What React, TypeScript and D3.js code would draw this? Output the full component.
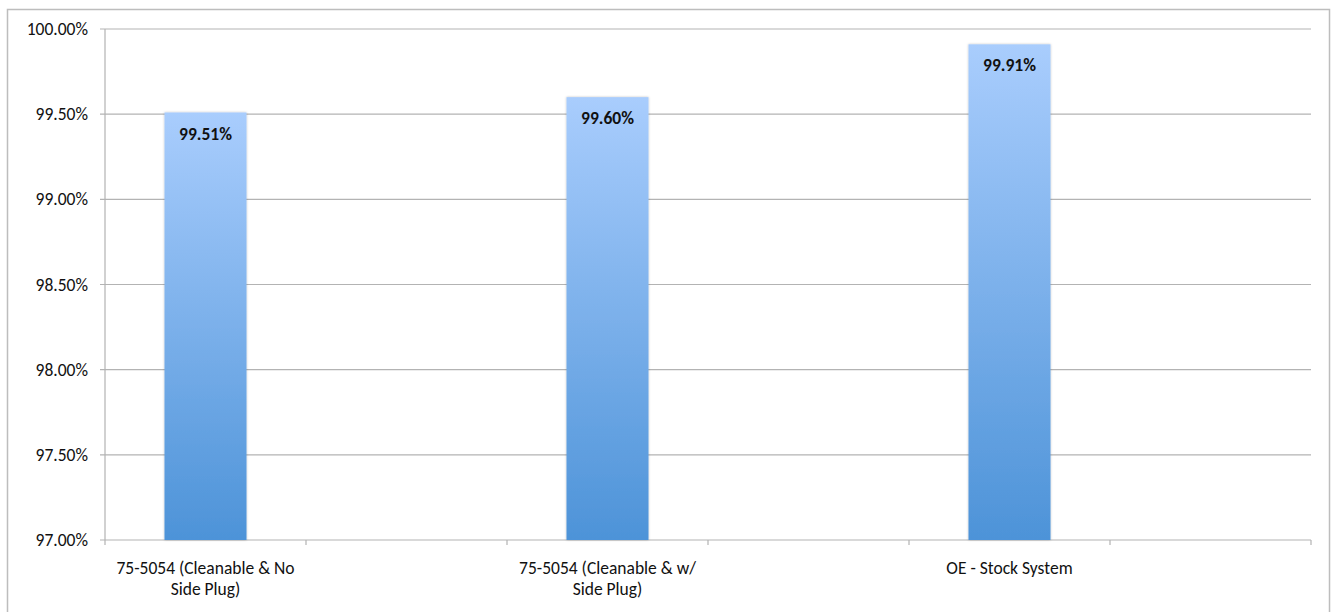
import React from "react";
import * as d3 from "d3";

// Six category slots; only every other slot carries a bar.
const categories = ["c1", "c2", "c3", "c4", "c5", "c6"];
const labelLines: string[][] = [
  ["75-5054 (Cleanable & No", "Side Plug)"],
  [],
  ["75-5054 (Cleanable & w/", "Side Plug)"],
  [],
  ["OE - Stock System"],
  [],
];
const values: (number | null)[] = [99.51, null, 99.6, null, 99.91, null];
const yTicks = [97, 97.5, 98, 98.5, 99, 99.5, 100];

const W = 1334;
const H = 612;
const left = 105;
const right = 1311;
const top = 29;
const bottom = 540;
const FONT = "Carlito, 'Open Sans', 'Noto Sans', sans-serif";
const FS = 17.5;

export default function App() {
  const x = d3.scaleBand<string>().domain(categories).range([left, right]).paddingInner(0).paddingOuter(0);
  const y = d3.scaleLinear().domain([97, 100]).range([bottom, top]);
  const bw = 82;

  return (
    <svg width={W} height={H} style={{ position: "absolute", left: 0, top: 0 }}>
      <defs>
        <linearGradient id="barGrad" x1="0" y1="0" x2="0" y2="1">
          <stop offset="0%" stopColor="#a9cdfd" />
          <stop offset="100%" stopColor="#4d93d8" />
        </linearGradient>
        <filter id="sh" x="-20%" y="-5%" width="140%" height="110%">
          <feDropShadow dx="0" dy="0" stdDeviation="1.2" floodColor="#000" floodOpacity="0.25" />
        </filter>
      </defs>
      <rect x={0} y={0} width={W} height={H} fill="#fff" />
      {/* chart frame */}
      <rect x={7.5} y={9.5} width={1322} height={620} fill="none" stroke="#bdbdbd" strokeWidth={1.5} />

      {/* horizontal gridlines and y ticks */}
      {yTicks.map((t) => (
        <g key={t}>
          <line x1={left - 5} x2={right} y1={y(t)} y2={y(t)} stroke="#b3b3b3" strokeWidth={1.2} />
          <text x={88} y={y(t)} dy="0.35em" textAnchor="end" fontFamily={FONT} fontSize={FS} fill="#111">
            {t.toFixed(2) + "%"}
          </text>
        </g>
      ))}
      {/* axes */}
      <line x1={left} x2={left} y1={top} y2={bottom} stroke="#b3b3b3" strokeWidth={1.2} />
      {[...categories.map((c) => x(c)!), right].map((px, i) => (
        <line key={i} x1={px} x2={px} y1={bottom} y2={bottom + 5} stroke="#b3b3b3" strokeWidth={1.2} />
      ))}

      {/* bars */}
      {categories.map((c, i) => {
        const v = values[i];
        if (v == null) return null;
        const cx = x(c)! + x.bandwidth() / 2;
        return (
          <g key={c}>
            <rect x={cx - bw / 2} y={y(v)} width={bw} height={bottom - y(v)} fill="url(#barGrad)" filter="url(#sh)" />
            <text x={cx} y={y(v) + 21} dy="0.35em" textAnchor="middle" fontFamily={FONT} fontSize={FS} fontWeight="bold" fill="#111">
              {v.toFixed(2) + "%"}
            </text>
          </g>
        );
      })}

      {/* category labels */}
      {categories.map((c, i) => {
        const cx = x(c)! + x.bandwidth() / 2;
        return labelLines[i].map((ln, j) => (
          <text key={c + j} x={cx} y={568 + j * 21} dy="0.35em" textAnchor="middle" fontFamily={FONT} fontSize={FS} fill="#111">
            {ln}
          </text>
        ));
      })}
    </svg>
  );
}
